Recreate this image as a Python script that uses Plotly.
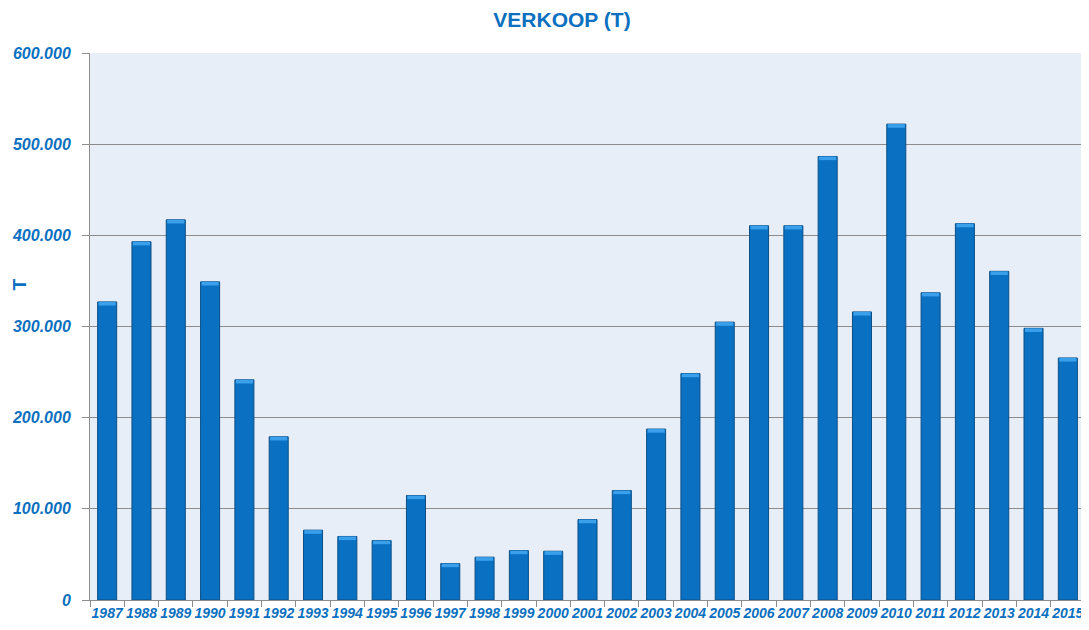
import plotly.graph_objects as go

years = [str(y) for y in range(1987, 2016)]
verkoop = [327000, 393000, 417000, 349000, 241500, 179000, 76600, 69700, 65200,
           114600, 40000, 47000, 54200, 53500, 88200, 120100, 187500, 248400,
           304800, 410500, 410500, 486500, 316000, 522000, 337000, 412800,
           360500, 298000, 265500]
yticks = [0, 100000, 200000, 300000, 400000, 500000, 600000]
cap = 4000  # height of the light bevel at the top of each bar (data units)

blue = "#0A70C2"
txt = "#0B70C0"

W, H = 1081, 622
L, R, T, B = 82, 4, 45, 30

fig = go.Figure()
fig.add_trace(go.Bar(
    x=years, y=verkoop,
    marker=dict(color=blue, line=dict(color="#0B4F86", width=1)),
    hoverinfo="x+y",
))
fig.add_trace(go.Bar(
    x=years, y=[cap] * len(verkoop), base=[v - cap for v in verkoop],
    marker=dict(color="#3AA0EC", line=dict(width=0)),
    width=0.5,
    hoverinfo="skip",
))

fig.update_layout(
    width=W, height=H,
    margin=dict(l=L, r=R, t=T, b=B, autoexpand=False),
    paper_bgcolor="white",
    plot_bgcolor="#E8EEF8",
    separators=",.",
    barmode="overlay",
    bargap=0.445,
    showlegend=False,
    title=dict(text="VERKOOP (T)", x=554 / W, xanchor="center", y=1 - 12 / H, yanchor="middle",
               font=dict(family="Liberation Sans", size=21, color=txt, weight="bold")),
    font=dict(family="Liberation Sans", color=txt),
    annotations=[dict(text="T", xref="paper", yref="paper",
                      x=(11 - L) / (W - L - R), y=0.577, xanchor="center", yanchor="middle",
                      showarrow=False, textangle=-90,
                      font=dict(family="Liberation Sans", size=19, color=txt, weight="bold"))],
)
fig.update_xaxes(
    type="category",
    tickson="boundaries",
    tickangle=0,
    automargin=False,
    ticks="outside", ticklen=6, tickcolor="#8C8C8C",
    showline=True, linecolor="#8C8C8C", linewidth=1,
    showgrid=False,
    tickfont=dict(family="Liberation Sans", size=14, color=txt, weight="bold", style="italic"),
)
fig.update_yaxes(
    range=[0, 600000],
    tickvals=yticks,
    tickformat=",d",
    automargin=False,
    ticks="outside", ticklen=7, tickcolor="#8C8C8C",
    ticklabelstandoff=8,
    showline=True, linecolor="#8C8C8C", linewidth=1,
    showgrid=True, gridcolor="#8C8C8C", gridwidth=1,
    zeroline=False,
    tickfont=dict(family="Liberation Sans", size=16, color=txt, weight="bold", style="italic"),
)

fig.write_html("out.html")
